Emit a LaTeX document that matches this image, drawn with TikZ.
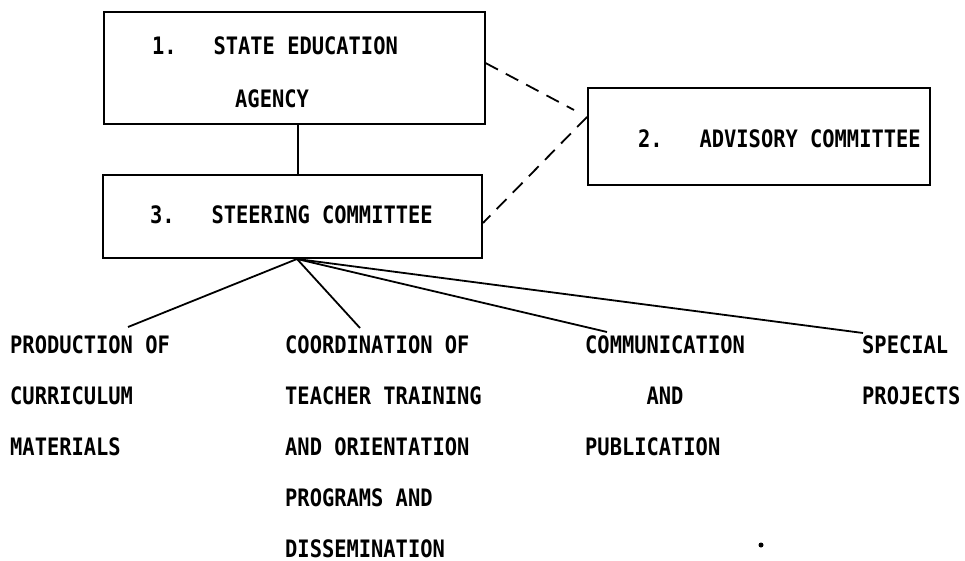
\documentclass[tikz,border=0pt]{standalone}
\usepackage{fontspec}
\newfontfamily\tw[FakeStretch=0.85]{DejaVu Sans Mono}
\usetikzlibrary{calc}
\tikzset{
  boxx/.style={draw, line width=2pt, rectangle, inner sep=0pt},
  lbl/.style={inner sep=0pt, anchor=base west, font=\tw\bfseries\fontsize{24}{51}\selectfont},
  col/.style={inner sep=0pt, anchor=north west, align=left, font=\tw\bfseries\fontsize{24}{51}\selectfont},
  conn/.style={line width=1.8pt},
  dconn/.style={line width=1.8pt, dash pattern=on 14pt off 9pt}
}
\begin{document}
\begin{tikzpicture}[x=1pt,y=-1pt]
\useasboundingbox (0,0) rectangle (965,561);
% boxes
\node[boxx, minimum width=381pt, minimum height=112pt] (b1) at (294,68) {};
\node[boxx, minimum width=342pt, minimum height=97pt] (b2) at (759,136.5) {};
\node[boxx, minimum width=379pt, minimum height=83pt] (b3) at (292.5,216.5) {};
% box texts
\node[lbl] (t1a) at (152,55) {1.\ \ \ STATE EDUCATION};
\node[lbl] (t1b) at (235,108) {AGENCY};
\node[lbl] (t2) at (638,148) {2.\ \ \ ADVISORY COMMITTEE};
\node[lbl] (t3) at (150,223) {3.\ \ \ STEERING COMMITTEE};
% columns
\node[col] (c1) at (10,335) {PRODUCTION OF\\CURRICULUM\\MATERIALS};
\node[col] (c2) at (285,335) {COORDINATION OF\\TEACHER TRAINING\\AND ORIENTATION\\PROGRAMS AND\\DISSEMINATION};
\node[col] (c3) at (585,335) {COMMUNICATION\\\hphantom{XXXXX}AND\\PUBLICATION};
\node[col] (c4) at (862,335) {SPECIAL\\PROJECTS};
% connectors
\draw[conn] ([xshift=4pt]b1.south) -- ([xshift=4pt]b1.south |- b3.north);
\draw[dconn] ([yshift=5pt]b1.east) -- ([xshift=-13pt,yshift=26.5pt]b2.west);
\draw[dconn] ([yshift=19.5pt]b2.west) -- ([yshift=-6.5pt]b3.east);
\coordinate (fan) at ([xshift=4.5pt]b3.south);
\coordinate (e1) at (128,327);
\coordinate (e2) at (360,328);
\coordinate (e3) at (607,332);
\coordinate (e4) at (863,333);
\draw[conn] (fan) -- (e1);
\draw[conn] (fan) -- (e2);
\draw[conn] (fan) -- (e3);
\draw[conn] (fan) -- (e4);
% dot
\fill (761,545) circle (2.5pt);
\end{tikzpicture}
\end{document}
